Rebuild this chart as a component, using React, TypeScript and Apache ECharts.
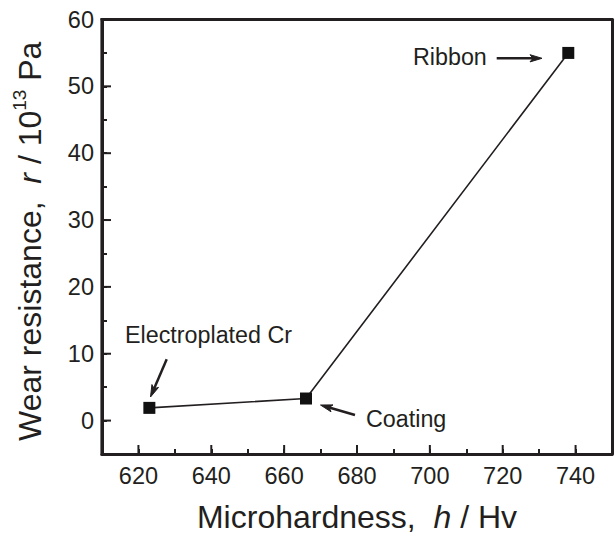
import React, { useEffect, useRef } from "react";
import * as echarts from "echarts";

const materials = ["Electroplated Cr", "Coating", "Ribbon"];
const microhardness = [623, 666, 738];
const wearResistance = [1.9, 3.3, 55];
const xMajorTicks = [620, 640, 660, 680, 700, 720, 740];
const yMajorTicks = [0, 10, 20, 30, 40, 50, 60];

const X_MIN = 610, X_MAX = 750, Y_MIN = -5, Y_MAX = 60;
const INK = "#231f20";
const FONT = "'Liberation Sans', Arial, Helvetica, sans-serif";

function arrow(x1: number, y1: number, x2: number, y2: number) {
  const dx = x2 - x1, dy = y2 - y1;
  const len = Math.sqrt(dx * dx + dy * dy);
  const ux = dx / len, uy = dy / len;
  const hl = 12, hw = 3.6, notch = 9;
  const bx = x2 - ux * hl, by = y2 - uy * hl;
  const nx = x2 - ux * notch, ny = y2 - uy * notch;
  const px = -uy * hw, py = ux * hw;
  return [
    { type: "line", shape: { x1, y1, x2: nx, y2: ny }, style: { stroke: INK, lineWidth: 2.5 }, silent: true },
    {
      type: "polygon",
      shape: { points: [[x2, y2], [bx + px, by + py], [nx, ny], [bx - px, by - py]] },
      style: { fill: INK, stroke: INK, lineWidth: 1 },
      silent: true,
    },
  ];
}

export default function App() {
  const ref = useRef<HTMLDivElement>(null);
  useEffect(() => {
    if (!ref.current) return;
    const chart = echarts.init(ref.current, undefined, { renderer: "svg" });
    const labelStyle = { color: INK, fontSize: 23.5, fontFamily: FONT };
    const frameAxis = {
      type: "value",
      axisLine: { show: true, onZero: false, lineStyle: { color: INK, width: 3 } },
      axisTick: { show: false },
      axisLabel: { show: false },
      splitLine: { show: false },
    };
    chart.setOption({
      animation: false,
      backgroundColor: "#ffffff",
      grid: { left: 102, right: 2, top: 19.5, bottom: 82 },
      xAxis: [
        {
          type: "value", min: X_MIN, max: X_MAX, interval: 10, position: "bottom",
          name: "{a|Microhardness,  }{i|h}{a| / Hv}",
          nameLocation: "middle", nameGap: 47,
          nameTextStyle: {
            rich: {
              a: { fontSize: 32, fontFamily: FONT, color: INK },
              i: { fontSize: 32, fontFamily: FONT, color: INK, fontStyle: "italic" },
            },
          },
          axisLine: { show: true, onZero: false, lineStyle: { color: INK, width: 3 } },
          axisTick: { show: true, inside: true, length: 5, lineStyle: { color: INK, width: 2 } },
          axisLabel: {
            ...labelStyle, margin: 10,
            formatter: (v: number) => (v % 20 === 0 && v > X_MIN && v < X_MAX ? String(v) : ""),
          },
          splitLine: { show: false },
        },
        { ...frameAxis, min: X_MIN, max: X_MAX, position: "top" },
      ],
      yAxis: [
        {
          type: "value", min: Y_MIN, max: Y_MAX, interval: 5, position: "left",
          name: "{a|Wear resistance,  }{i|r}{a| / 10}{s|13}{a| Pa}",
          nameLocation: "middle", nameGap: 56,
          nameTextStyle: {
            padding: [0, 9, 0, 0],
            rich: {
              a: { fontSize: 32, fontFamily: FONT, color: INK, lineHeight: 36, verticalAlign: "bottom" },
              i: { fontSize: 32, fontFamily: FONT, color: INK, fontStyle: "italic", lineHeight: 36, verticalAlign: "bottom" },
              s: { fontSize: 19, fontFamily: FONT, color: INK, lineHeight: 36, verticalAlign: "top" },
            },
          },
          axisLine: { show: true, onZero: false, lineStyle: { color: INK, width: 3 } },
          axisTick: { show: true, inside: true, length: 5, lineStyle: { color: INK, width: 2 } },
          axisLabel: {
            ...labelStyle, margin: 8,
            formatter: (v: number) => (v % 10 === 0 && v >= 0 ? String(v) : ""),
          },
          splitLine: { show: false },
        },
        { ...frameAxis, min: Y_MIN, max: Y_MAX, position: "right" },
      ],
      series: [
        {
          type: "line",
          data: microhardness.map((x, i) => ({ value: [x, wearResistance[i]], name: materials[i] })),
          symbol: "rect", symbolSize: 12,
          itemStyle: { color: "#111111" },
          lineStyle: { color: INK, width: 1.6 },
          z: 3,
        },
        {
          type: "custom",
          data: xMajorTicks.map((v) => [v, Y_MIN]),
          clip: false,
          renderItem: (params: any, api: any) => {
            const p = api.coord([api.value(0), api.value(1)]);
            return {
              type: "line",
              shape: { x1: p[0], y1: p[1], x2: p[0], y2: p[1] - 9 },
              style: { stroke: INK, lineWidth: 2 },
            };
          },
          z: 4,
        },
        {
          type: "custom",
          data: yMajorTicks.map((v) => [X_MIN, v]),
          clip: false,
          renderItem: (params: any, api: any) => {
            const p = api.coord([api.value(0), api.value(1)]);
            return {
              type: "line",
              shape: { x1: p[0], y1: p[1], x2: p[0] + 9, y2: p[1] },
              style: { stroke: INK, lineWidth: 2 },
            };
          },
          z: 4,
        },
        {
          type: "custom",
          data: [[X_MIN, Y_MIN, Y_MAX]],
          clip: false,
          renderItem: (params: any, api: any) => {
            const a = api.coord([api.value(0), api.value(1)]);
            const b = api.coord([api.value(0), api.value(2)]);
            return {
              type: "rect",
              shape: { x: a[0] - 1.6, y: b[1] - 1.5, width: 3.2, height: a[1] - b[1] + 3 },
              style: { fill: INK },
            };
          },
          z: 5,
        },
      ],
      graphic: [
        { type: "text", x: 413, y: 57, style: { text: "Ribbon", fill: INK, fontSize: 23.3, fontFamily: FONT, verticalAlign: "middle", align: "left" } },
        { type: "text", x: 125, y: 335, style: { text: "Electroplated Cr", fill: INK, fontSize: 23.3, fontFamily: FONT, verticalAlign: "middle", align: "left" } },
        { type: "text", x: 366, y: 419, style: { text: "Coating", fill: INK, fontSize: 23.3, fontFamily: FONT, verticalAlign: "middle", align: "left" } },
        ...arrow(496.7, 58.3, 542, 58.3),
        ...arrow(166.7, 359.3, 150.5, 397),
        ...arrow(355, 415, 320.5, 405),
      ],
    });
    return () => chart.dispose();
  }, []);
  return (
    <div
      ref={ref}
      style={{ position: "fixed", left: 0, top: 0, width: 615, height: 538, background: "#fff" }}
    />
  );
}
